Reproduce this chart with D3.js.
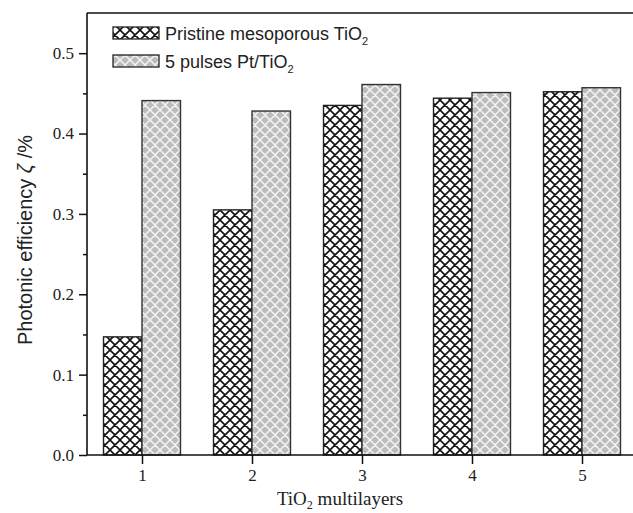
<!DOCTYPE html>
<html>
<head>
<meta charset="utf-8">
<script src="https://cdn.jsdelivr.net/npm/d3@7"></script>
<style>
  body { margin: 0; background: #fff; }
</style>
</head>
<body>
<div id="chart"></div>
<script>
// data
var layers = [1, 2, 3, 4, 5];
var pristine = [0.147, 0.305, 0.435, 0.444, 0.452];
var platinum = [0.441, 0.428, 0.461, 0.451, 0.457];
var seriesNames = ["Pristine mesoporous TiO", "5 pulses Pt/TiO"];
var yTicks = [0, 0.1, 0.2, 0.3, 0.4, 0.5];

var w = 633, h = 513;
var mLeft = 87, mTop = 13, mBottom = 455, mRight = 637;

var svg = d3.select("#chart").append("svg")
    .attr("width", w).attr("height", h);

// hatch patterns (diagonal cross-hatch)
var hatch = "M0,0L10,10M0,10L10,0M-1,1L1,-1M9,11L11,9M-1,9L1,11M9,-1L11,1";
var defs = svg.append("defs");
var p1 = defs.append("pattern").attr("id", "hatchA")
    .attr("patternUnits", "userSpaceOnUse").attr("width", 10).attr("height", 10);
p1.append("rect").attr("width", 10).attr("height", 10).attr("fill", "#fff");
p1.append("path").attr("d", hatch).attr("stroke", "#111").attr("stroke-width", 1.6);
var p2 = defs.append("pattern").attr("id", "hatchB")
    .attr("patternUnits", "userSpaceOnUse").attr("width", 10).attr("height", 10);
p2.append("rect").attr("width", 10).attr("height", 10).attr("fill", "#bcbcbc");
p2.append("path").attr("d", hatch).attr("stroke", "#f4f4f4").attr("stroke-width", 1.5);

var x = d3.scaleLinear().domain([0.5, 5.5]).range([mLeft, mRight]);
var y = d3.scaleLinear().domain([0, 0.55]).range([mBottom, mTop]);
var barW = 38.5;

// bars
svg.selectAll(".barA").data(pristine).enter().append("rect")
    .attr("x", function(d, i) { return x(layers[i]) - barW; })
    .attr("y", function(d) { return y(d); })
    .attr("width", barW)
    .attr("height", function(d) { return mBottom - y(d); })
    .attr("fill", "url(#hatchA)").attr("stroke", "#222").attr("stroke-width", 1.4);

svg.selectAll(".barB").data(platinum).enter().append("rect")
    .attr("x", function(d, i) { return x(layers[i]); })
    .attr("y", function(d) { return y(d); })
    .attr("width", barW)
    .attr("height", function(d) { return mBottom - y(d); })
    .attr("fill", "url(#hatchB)").attr("stroke", "#333").attr("stroke-width", 1.4);

// y axis
var yAxis = svg.append("g").attr("transform", "translate(" + mLeft + ",0)")
    .call(d3.axisLeft(y).tickValues(yTicks).tickFormat(d3.format(".1f")).tickSize(8).tickPadding(5));
var yMinor = svg.append("g").attr("transform", "translate(" + mLeft + ",0)")
    .call(d3.axisLeft(y).tickValues([0.05, 0.15, 0.25, 0.35, 0.45]).tickFormat("").tickSize(4));
yMinor.select(".domain").remove();

// x axis
var xAxis = svg.append("g").attr("transform", "translate(0," + mBottom + ")")
    .call(d3.axisBottom(x).tickValues(layers).tickFormat(d3.format("d")).tickSize(9).tickPadding(5));

[yAxis, yMinor, xAxis].forEach(function(g) {
    g.selectAll("line").attr("stroke", "#111").attr("stroke-width", 1.5);
    g.select(".domain").attr("stroke", "#111").attr("stroke-width", 1.6);
    g.selectAll("text").attr("font-family", "Liberation Serif, Times New Roman, serif")
        .attr("font-size", 17).attr("fill", "#222");
});
xAxis.select(".domain").attr("d", "M" + mLeft + ",0H" + mRight);
yAxis.select(".domain").attr("d", "M0," + mBottom + "V" + mTop);

// top frame line
svg.append("line").attr("x1", mLeft).attr("x2", mRight).attr("y1", mTop).attr("y2", mTop)
    .attr("stroke", "#111").attr("stroke-width", 1.6);

// axis titles
var xt = svg.append("text").attr("x", 340).attr("y", 505).attr("text-anchor", "middle")
    .attr("font-family", "Liberation Serif, Times New Roman, serif").attr("font-size", 19).attr("fill", "#222");
xt.append("tspan").text("TiO");
xt.append("tspan").attr("font-size", 12).attr("dy", 4).text("2");
xt.append("tspan").attr("dy", -4).text(" multilayers");

var yt = svg.append("text").attr("transform", "translate(32,240) rotate(-90)")
    .attr("text-anchor", "middle")
    .attr("font-family", "Liberation Sans, Arial, sans-serif").attr("font-size", 20).attr("fill", "#222");
yt.append("tspan").text("Photonic efficiency ");
yt.append("tspan").attr("font-style", "italic").text("ζ");
yt.append("tspan").text(" /%");

// legend
var fills = ["url(#hatchA)", "url(#hatchB)"];
var lg = svg.append("g");
seriesNames.forEach(function(name, i) {
    var ly = 27 + i * 28;
    lg.append("rect").attr("x", 113).attr("y", ly).attr("width", 46).attr("height", 12)
        .attr("fill", fills[i]).attr("stroke", "#222").attr("stroke-width", 1.3);
    var t = lg.append("text").attr("x", 165).attr("y", ly + 13)
        .attr("font-family", "Liberation Sans, Arial, sans-serif").attr("font-size", 18).attr("fill", "#222");
    t.append("tspan").text(name);
    t.append("tspan").attr("font-size", 11).attr("dy", 5).text("2");
});
</script>
</body>
</html>
